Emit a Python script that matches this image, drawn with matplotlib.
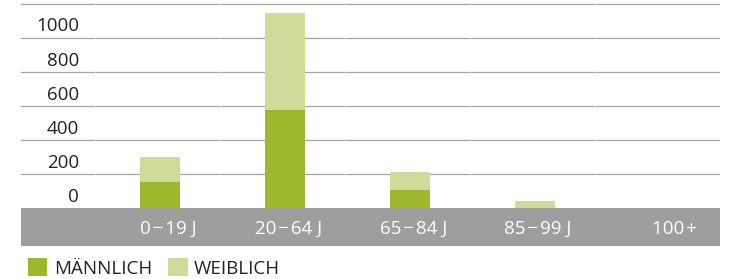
import matplotlib
matplotlib.use("Agg")
import matplotlib.pyplot as plt

plt.rcParams['font.family'] = ['Open Sans', 'DejaVu Sans']

# data
groups = ["0\u200a\u2212\u200a19 J", "20\u200a\u2212\u200a64 J", "65\u200a\u2212\u200a84 J",
          "85\u200a\u2212\u200a99 J", "100\u200a+"]
male = [153, 578, 106, 0, 0]
female = [147, 571, 106, 41, 0]
y_ticks = [0, 200, 400, 600, 800, 1000]

c_male = "#9db82d"
c_female = "#cfdc99"
c_band = "#9e9e9e"
c_grid = "#a4a4a4"

W, H = 732, 279
fig = plt.figure(figsize=(W / 100, H / 100), dpi=100)
ax = fig.add_axes([21 / W, (H - 246) / H, (720 - 21) / W, (246 - 3) / H])

px = 200 / 34  # data units per pixel (vertical)
ymin = -38 * px
ax.set_xlim(-0.5 - 74 / 125, 4.5)
ax.set_ylim(ymin, 1200 + 1 * px)
ax.axis("off")

# grid lines with faint breaks at category borders
for v in range(200, 1201, 200):
    ax.axhline(v, color=c_grid, lw=0.9, zorder=1)
for b in [-0.5, 0.5, 1.5, 2.5, 3.5]:
    ax.axvline(b, color="white", lw=0.8, alpha=0.55, zorder=1.5)

# grey category band
ax.axhspan(ymin, 0, color=c_band, zorder=2, lw=0)

x = [i + 0.016 for i in range(len(groups))]
ax.bar(x, male, width=0.32, color=c_male, label="MÄNNLICH", zorder=3)
ax.bar(x, female, width=0.32, bottom=male, color=c_female, label="WEIBLICH", zorder=3)

# y labels sit between the grid lines
for t in y_ticks:
    ax.text(-0.5 - 16 / 125, t + 6.5 * px, str(t), ha="right", va="baseline",
            fontsize=13.5, color="#222222")

# category labels in the band
for i, g in enumerate(groups):
    ax.text(i + 0.315, -26 * px, g, ha="right", va="baseline",
            fontsize=13.5, color="white", zorder=4)

leg = fig.legend(loc="lower left", bbox_to_anchor=(20 / W, -6 / H), ncol=2,
                 frameon=False, fontsize=13.5, handlelength=1.05, handleheight=1.05,
                 handletextpad=0.35, columnspacing=0.85, borderaxespad=0)
for t in leg.get_texts():
    t.set_color("#222222")

fig.savefig("out.png", dpi=100)
